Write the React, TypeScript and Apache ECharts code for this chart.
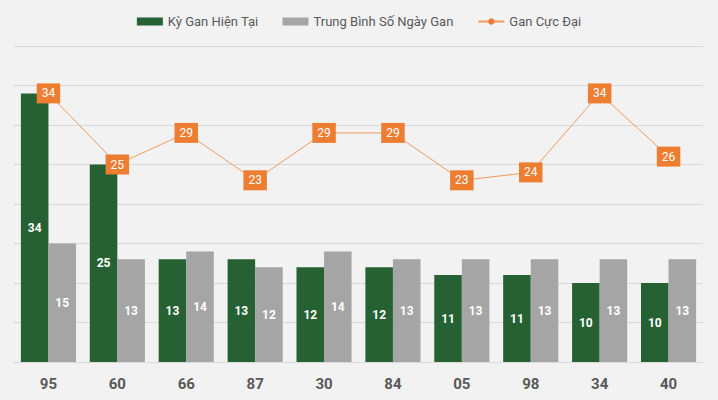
import React, { useEffect, useRef } from "react";
import * as echarts from "echarts";

const categories = ["95", "60", "66", "87", "30", "84", "05", "98", "34", "40"];
const currentGan = [34, 25, 13, 13, 12, 12, 11, 11, 10, 10];
const avgGan = [15, 13, 14, 12, 14, 13, 13, 13, 13, 13];
const maxGan = [34, 25, 29, 23, 29, 29, 23, 24, 34, 26];

export default function App() {
  const ref = useRef<HTMLDivElement>(null);
  useEffect(() => {
    if (!ref.current) return;
    const chart = echarts.init(ref.current, undefined, { renderer: "svg" });
    chart.setOption({
      animation: false,
      backgroundColor: "#f2f2f2",
      textStyle: { fontFamily: "Roboto" },
      legend: {
        top: 10,
        left: "center",
        itemWidth: 26,
        itemHeight: 8,
        itemGap: 24,
        textStyle: { color: "#595959", fontSize: 13, fontFamily: "Roboto" },
        data: [
          { name: "Kỳ Gan Hiện Tại", icon: "rect" },
          { name: "Trung Bình Số Ngày Gan", icon: "rect" },
          { name: "Gan Cực Đại" },
        ],
      },
      grid: { left: 14, right: 15, top: 46, bottom: 38, containLabel: false },
      xAxis: {
        type: "category",
        data: categories,
        axisLine: { lineStyle: { color: "#d9d9d9" } },
        axisTick: { show: false },
        axisLabel: {
          color: "#595959",
          fontSize: 15,
          fontWeight: "bold",
          margin: 14,
          fontFamily: "Roboto",
        },
      },
      yAxis: {
        type: "value",
        min: 0,
        max: 40,
        interval: 5,
        axisLabel: { show: false },
        axisLine: { show: false },
        axisTick: { show: false },
        splitLine: { lineStyle: { color: "#d9d9d9" } },
      },
      series: [
        {
          name: "Kỳ Gan Hiện Tại",
          type: "bar",
          data: currentGan,
          barGap: "0%",
          barCategoryGap: "20%",
          itemStyle: { color: "#256132" },
          label: {
            show: true,
            position: "inside",
            color: "#fff",
            fontSize: 12,
            fontWeight: "bold",
            fontFamily: "Roboto",
          },
        },
        {
          name: "Trung Bình Số Ngày Gan",
          type: "bar",
          data: avgGan,
          itemStyle: { color: "#a5a5a5" },
          label: {
            show: true,
            position: "inside",
            color: "#fff",
            fontSize: 12,
            fontWeight: "bold",
            fontFamily: "Roboto",
          },
        },
        {
          name: "Gan Cực Đại",
          type: "line",
          data: maxGan,
          symbol: "circle",
          symbolSize: 7,
          itemStyle: { color: "#ed7d31" },
          lineStyle: { color: "#f19a5e", width: 1 },
          label: {
            show: true,
            position: "inside",
            color: "#fff",
            fontSize: 12,
            fontFamily: "Roboto",
            backgroundColor: "#ed7d31",
            padding: [4, 5],
          },
        },
      ],
    });
    return () => chart.dispose();
  }, []);
  return <div ref={ref} style={{ width: 718, height: 400, position: "absolute", left: 0, top: 0 }} />;
}
